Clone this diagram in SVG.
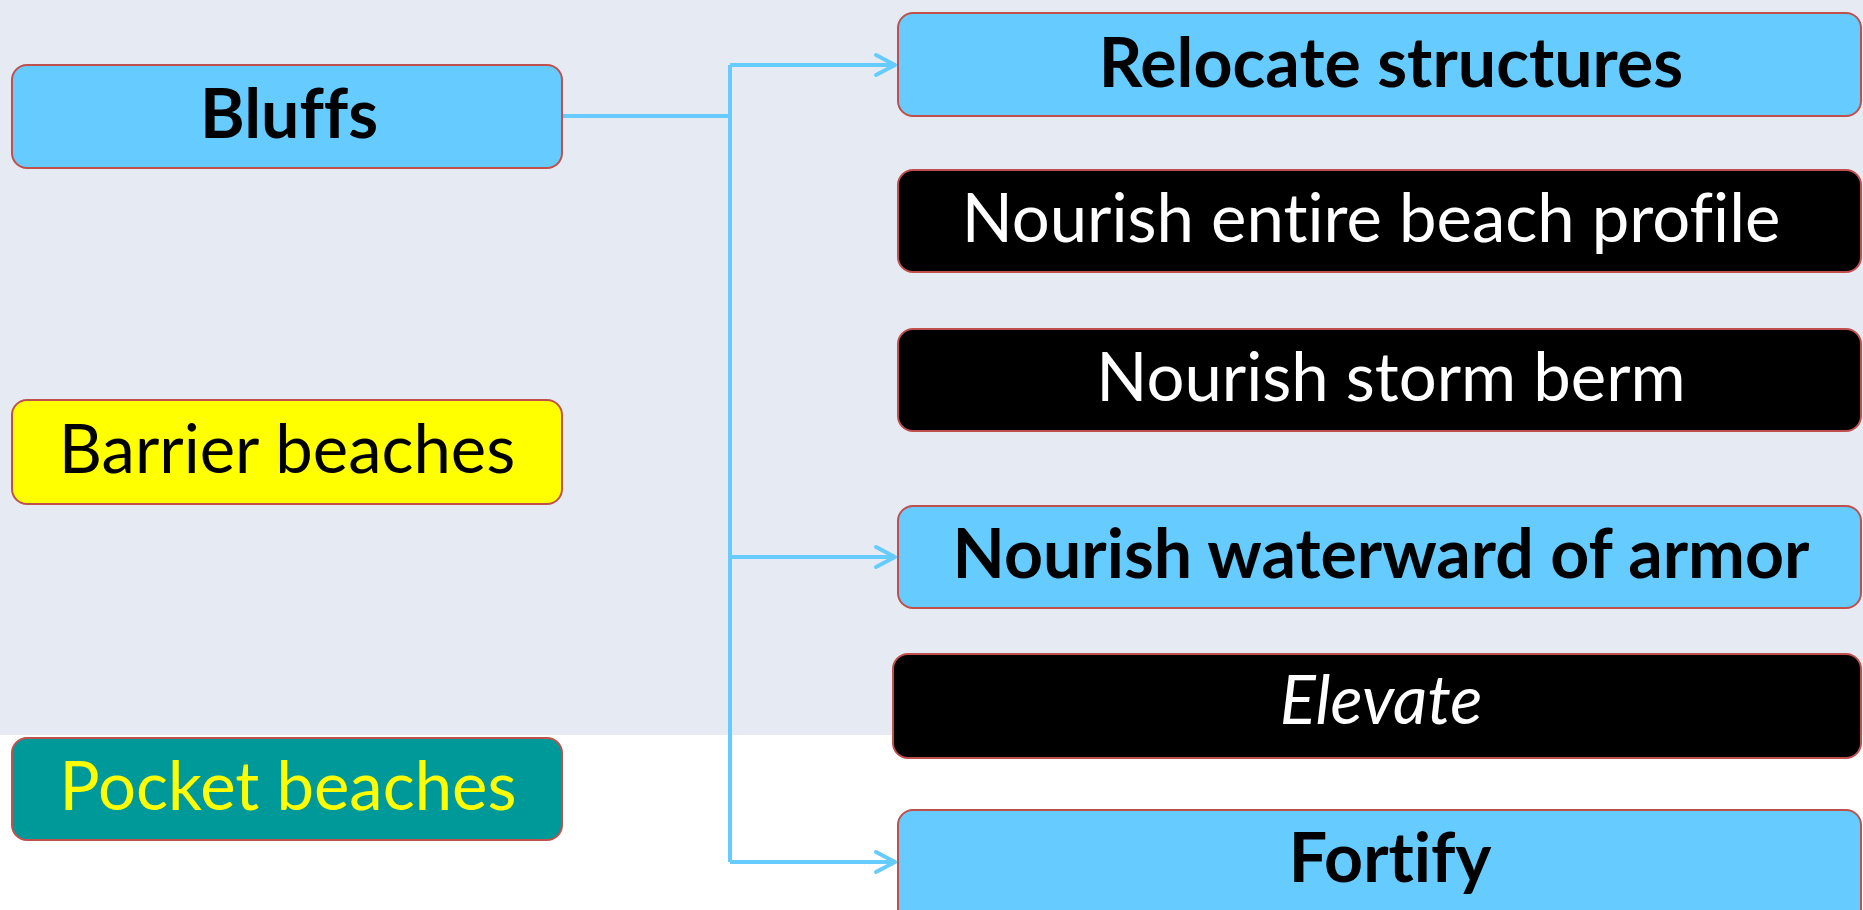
<svg xmlns="http://www.w3.org/2000/svg" width="1863" height="910" viewBox="0 0 1863 910">
  <style>
    .box { stroke: #C0504D; stroke-width: 2; }
    .blue { fill: #66CCFF; }
    .black { fill: #000000; }
    .yellow { fill: #FFFF00; }
    .teal { fill: #009999; }
    .t { font-family: Lato, "Liberation Sans", sans-serif; font-size: 67px; text-anchor: middle; font-variant-ligatures: none; }
    .b { font-weight: bold; font-size: 68px; fill: #000000; }
    .w { fill: #FFFFFF; }
    .conn { fill: none; stroke: #66CCFF; stroke-width: 4; }
  </style>
  <defs>
    <marker id="arr" markerUnits="userSpaceOnUse" markerWidth="30" markerHeight="30" viewBox="-24 -15 30 30" refX="0" refY="0" orient="auto">
      <path d="M-19,-10 L0,0 L-19,10" fill="none" stroke="#66CCFF" stroke-width="4" stroke-linecap="round" stroke-linejoin="round"/>
    </marker>
  </defs>
  <rect x="0" y="0" width="1863" height="735" fill="#E6EBF3"/>
  <g id="connectors">
    <path class="conn" d="M562,116 H730"/>
    <path class="conn" d="M730,65 V862"/>
    <path class="conn" d="M730,65 H895" marker-end="url(#arr)"/>
    <path class="conn" d="M730,557 H895" marker-end="url(#arr)"/>
    <path class="conn" d="M730,862 H895" marker-end="url(#arr)"/>
  </g>
  <g id="bluffs">
    <rect class="box blue" x="12" y="65" width="550" height="103" rx="15"/>
    <text class="t b" x="289" y="138">Bluffs</text>
  </g>
  <g id="barrier-beaches">
    <rect class="box yellow" x="12" y="400" width="550" height="104" rx="15"/>
    <text class="t" x="287" y="473" fill="#000000">Barrier beaches</text>
  </g>
  <g id="pocket-beaches">
    <rect class="box teal" x="12" y="738" width="550" height="102" rx="15"/>
    <text class="t" x="288" y="810" fill="#FFFF00">Pocket beaches</text>
  </g>
  <g id="relocate-structures">
    <rect class="box blue" x="898" y="13" width="963" height="103" rx="15"/>
    <text class="t b" x="1391" y="87">Relocate structures</text>
  </g>
  <g id="nourish-entire-beach-profile">
    <rect class="box black" x="898" y="170" width="963" height="102" rx="15"/>
    <text class="t w" x="1371" y="242">Nourish entire beach profile</text>
  </g>
  <g id="nourish-storm-berm">
    <rect class="box black" x="898" y="329" width="963" height="102" rx="15"/>
    <text class="t w" x="1391" y="401">Nourish storm berm</text>
  </g>
  <g id="nourish-waterward-of-armor">
    <rect class="box blue" x="898" y="506" width="963" height="102" rx="15"/>
    <text class="t b" x="1381" y="578">Nourish waterward of armor</text>
  </g>
  <g id="elevate">
    <rect class="box black" x="893" y="654" width="968" height="104" rx="15"/>
    <text class="t w" x="1381" y="724" font-style="italic">Elevate</text>
  </g>
  <g id="fortify">
    <rect class="box blue" x="898" y="810" width="963" height="115" rx="15"/>
    <text class="t b" x="1390" y="882">Fortify</text>
  </g>
</svg>
